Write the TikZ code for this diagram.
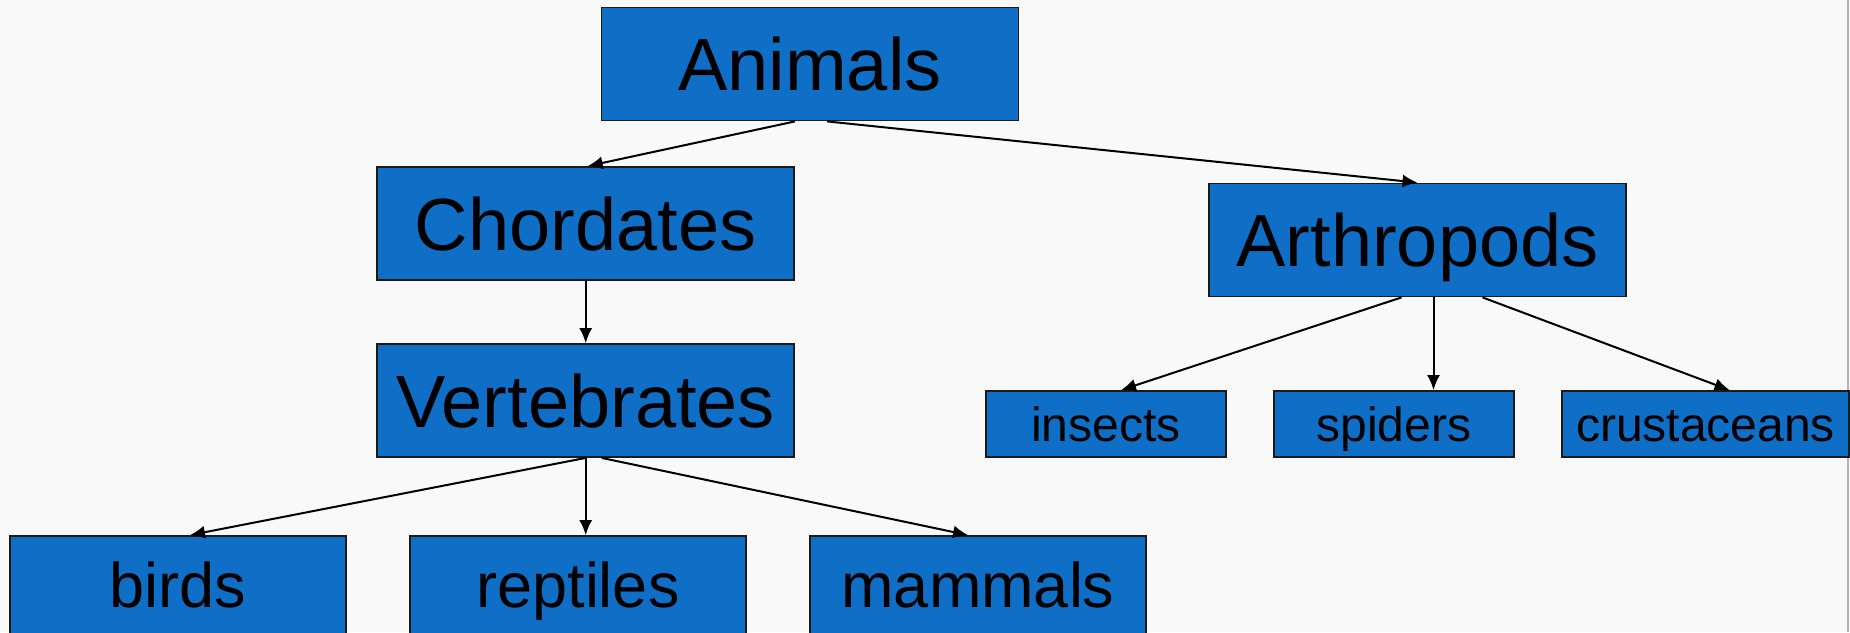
\documentclass[tikz,border=0pt]{standalone}
\usepackage{fontspec}
\setmainfont{Liberation Sans}
\usetikzlibrary{arrows.meta,calc}
\definecolor{boxblue}{HTML}{0F6FC6}
\definecolor{bgcol}{HTML}{F9F9F9}
\definecolor{edgecol}{HTML}{1A1A1A}
\begin{document}
\begin{tikzpicture}[x=0.5pt,y=-0.5pt,
  box/.style={draw=edgecol, line width=0.9pt, fill=boxblue, inner sep=0pt, text depth=0pt},
  bigbox/.style={box, minimum width=208.5pt, minimum height=56.5pt, font=\fontsize{37}{40}\selectfont, text height=26.5pt},
  lowbox/.style={box, minimum width=168pt, minimum height=49pt, font=\fontsize{31.5}{34}\selectfont, text height=22.6pt},
  smallbox/.style={box, minimum width=120pt, minimum height=33pt, font=\fontsize{24}{26}\selectfont, text height=17.2pt},
  conn/.style={draw=black, line width=1pt, -{Latex[length=7.5pt,width=6.5pt]}}
]
\useasboundingbox (0,0) rectangle (1850,632);
\fill[bgcol] (0,0) rectangle (1850,632);
\draw[gray!60, line width=1.2pt] (1848,0) -- (1848,632);

\node[bigbox] (animals) at (810,64) {Animals};
\node[bigbox] (chordates) at (585.7,223.5) {Chordates};
\node[bigbox] (arthropods) at (1417.5,240) {Arthropods};
\node[bigbox] (vertebrates) at (585.7,400.5) {Vertebrates};
\node[smallbox] (insects) at (1106,424) {insects};
\node[smallbox] (spiders) at (1394,424) {spiders};
\node[smallbox, minimum width=143.5pt] (crustaceans) at (1705.5,424) {crustaceans};
\node[lowbox] (birds) at (178,585) {birds};
\node[lowbox] (reptiles) at (578,585) {reptiles};
\node[lowbox] (mammals) at (978,585) {mammals};

\draw[conn] ([xshift=-7.5pt]animals.south) -- ([xshift=1pt]chordates.north);
\draw[conn] ([xshift=8.5pt]animals.south) -- (arthropods.north);
\draw[conn] (chordates.south) -- (vertebrates.north);
\draw[conn] (vertebrates.south) -- ([xshift=6pt]birds.north);
\draw[conn] (vertebrates.south) -- (reptiles.north -| vertebrates.south);
\draw[conn] ([xshift=8pt]vertebrates.south) -- ([xshift=-5pt]mammals.north);
\draw[conn] ([xshift=-8pt]arthropods.south) -- ([xshift=7.5pt]insects.north);
\coordinate (spidx) at ([xshift=8pt]arthropods.south);
\draw[conn] (spidx) -- (spiders.north -| spidx);
\draw[conn] ([xshift=32.5pt]arthropods.south) -- ([xshift=12pt]crustaceans.north);
\end{tikzpicture}
\end{document}
